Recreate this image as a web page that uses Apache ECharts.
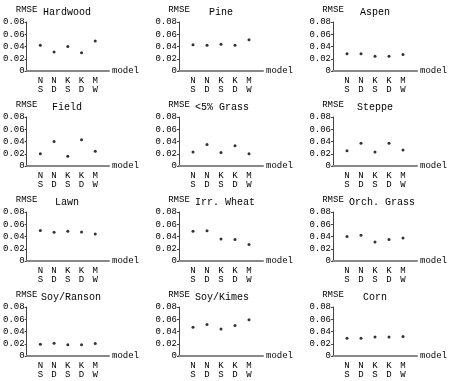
<!DOCTYPE html>
<html>
<head>
<meta charset="utf-8">
<script src="https://cdn.jsdelivr.net/npm/echarts@6/dist/echarts.min.js"></script>
<style>
  html, body { margin: 0; padding: 0; background: #fff; }
  #chart { width: 449px; height: 381px; }
</style>
</head>
<body>
<div id="chart"></div>
<script>
// RMSE per model (NS, ND, KS, KD, MW) for each land cover
var modelLabels = ['N\nS', 'N\nD', 'K\nS', 'K\nD', 'M\nW']
var panelNames = ['Hardwood', 'Pine', 'Aspen', 'Field', '<5% Grass', 'Steppe',
  'Lawn', 'Irr. Wheat', 'Orch. Grass', 'Soy/Ranson', 'Soy/Kimes', 'Corn']
var hardwood = [0.042, 0.031, 0.040, 0.030, 0.049]
var pine = [0.043, 0.042, 0.0435, 0.042, 0.051]
var aspen = [0.028, 0.028, 0.024, 0.024, 0.027]
var field = [0.020, 0.040, 0.016, 0.043, 0.024]
var grass5 = [0.023, 0.035, 0.022, 0.033, 0.020]
var steppe = [0.025, 0.037, 0.023, 0.037, 0.026]
var lawn = [0.050, 0.047, 0.0485, 0.0475, 0.044]
var irrWheat = [0.0485, 0.0495, 0.036, 0.035, 0.027]
var orchGrass = [0.040, 0.042, 0.031, 0.035, 0.0375]
var soyRanson = [0.019, 0.021, 0.0185, 0.0185, 0.0205]
var soyKimes = [0.047, 0.0515, 0.044, 0.050, 0.059]
var corn = [0.029, 0.029, 0.031, 0.031, 0.032]
var yTicks = [0, 0.02, 0.04, 0.06, 0.08]

var panelData = [hardwood, pine, aspen, field, grass5, steppe,
  lawn, irrWheat, orchGrass, soyRanson, soyKimes, corn]

var font = 'Liberation Mono'
var colLeft = [25, 179, 333]
var rowTop = [22, 117, 212, 307]
var gw = 84
var gh = 49

var grids = []
var xAxes = []
var yAxes = []
var series = []
var titles = []
var axisCats = [''].concat(modelLabels).concat([''])

for (var i = 0; i < panelData.length; i++) {
  var c = i % 3
  var r = Math.floor(i / 3)
  grids.push({ left: colLeft[c], top: rowTop[r], width: gw, height: gh })
  xAxes.push({
    gridIndex: i,
    type: 'category',
    data: axisCats,
    boundaryGap: false,
    name: 'model',
    nameGap: 3,
    nameTextStyle: { fontFamily: font, fontSize: 9, color: '#000' },
    axisLine: { lineStyle: { color: '#888', width: 2 } },
    axisTick: { show: false },
    axisLabel: {
      interval: 0,
      fontFamily: font,
      fontSize: 9,
      lineHeight: 9,
      color: '#000',
      margin: 5
    },
    splitLine: { show: false }
  })
  yAxes.push({
    gridIndex: i,
    type: 'value',
    min: yTicks[0],
    max: yTicks[yTicks.length - 1],
    interval: 0.02,
    name: 'RMSE',
    nameLocation: 'end',
    nameGap: 8,
    nameTextStyle: { fontFamily: font, fontSize: 9, color: '#000', align: 'center' },
    axisLine: { show: true, lineStyle: { color: '#444', width: 1 } },
    axisTick: { show: true, length: 2, lineStyle: { color: '#444' } },
    axisLabel: {
      fontFamily: font,
      fontSize: 9,
      color: '#000',
      margin: 2,
      formatter: function(v) {
        return v === 0 ? '0' : v.toFixed(2)
      }
    },
    splitLine: { show: false }
  })
  // centre the title over the plot, but keep it clear of the RMSE label
  var tw = panelNames[i].length * 6
  var tx = Math.max(colLeft[c] + gw / 2 - tw / 2, colLeft[c] + 16)
  titles.push({
    text: panelNames[i],
    left: tx,
    top: rowTop[r] - 15,
    padding: 0,
    textStyle: { fontFamily: font, fontSize: 10, fontWeight: 'normal', color: '#000' }
  })
  series.push({
    type: 'scatter',
    xAxisIndex: i,
    yAxisIndex: i,
    symbolSize: 3,
    itemStyle: { color: '#000' },
    data: panelData[i].map(function(v, j) {
      return [j + 1, v]
    })
  })
}

var chart = echarts.init(document.getElementById('chart'))
chart.setOption({
  animation: false,
  backgroundColor: '#fff',
  title: titles,
  grid: grids,
  xAxis: xAxes,
  yAxis: yAxes,
  series: series
})
</script>
</body>
</html>
